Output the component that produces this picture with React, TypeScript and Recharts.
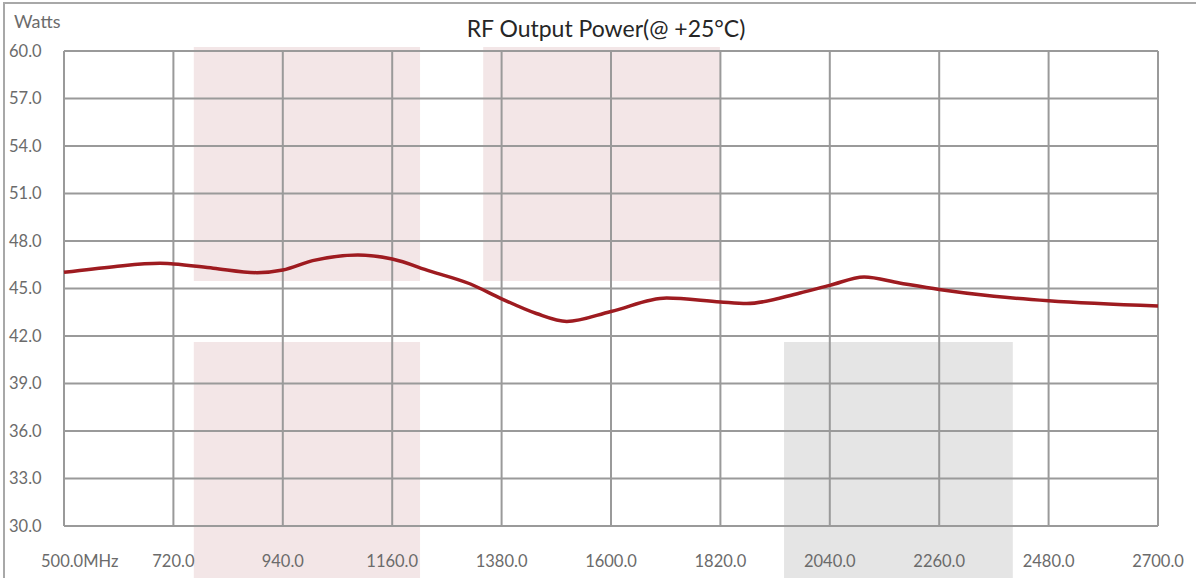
import React from "react";
import {
  LineChart,
  Line,
  XAxis,
  YAxis,
  CartesianGrid,
  ReferenceArea,
} from "recharts";

// frequency (MHz) and output power (W)
const freqs = [
  500, 600, 693, 720, 800, 888, 940, 1000, 1091, 1160, 1236, 1316, 1380, 1450,
  1511, 1600, 1712, 1820, 1873, 1980, 2040, 2109, 2180, 2260, 2370, 2480, 2700,
];
const watts = [
  46.02, 46.38, 46.59, 46.55, 46.28, 46.0, 46.17, 46.76, 47.12, 46.86, 46.1,
  45.3, 44.35, 43.42, 42.92, 43.55, 44.4, 44.15, 44.05, 44.72, 45.2, 45.73,
  45.35, 44.94, 44.51, 44.22, 43.89,
];

const xTicks = [500, 720, 940, 1160, 1380, 1600, 1820, 2040, 2260, 2480, 2700];
const yTicks = [30, 33, 36, 39, 42, 45, 48, 51, 54, 57, 60];

// background blocks behind the plot: [x1, x2, y1, y2, colour]
const blocks: Array<[number, number, number, number, string]> = [
  [761, 1216, 45.47, 60.25, "#f3e6e7"],
  [761, 1216, 26, 41.62, "#f3e6e7"],
  [1343, 1819, 45.47, 60.25, "#f3e6e7"],
  [1948, 2408, 26, 41.62, "#e5e5e5"],
];

const data = freqs.map((f, i) => ({ f, w: watts[i] }));

const FONT = "Lato, 'Open Sans', sans-serif";

const XTick = (props: any) => {
  const { x, y, payload, index } = props;
  const label = payload.value.toFixed(1);
  if (index === 0) {
    return (
      <text x={x - 23} y={y + 33} textAnchor="start" fill="#6b6b6b" fontSize={16.5} fontFamily={FONT}>
        {label}MHz
      </text>
    );
  }
  return (
    <text x={x} y={y + 33} textAnchor="middle" fill="#6b6b6b" fontSize={16.5} fontFamily={FONT}>
      {label}
    </text>
  );
};

const YTick = (props: any) => {
  const { y, payload } = props;
  return (
    <text x={9} y={y} dy="0.35em" textAnchor="start" fill="#6b6b6b" fontSize={16.5} fontFamily={FONT}>
      {payload.value.toFixed(1)}
    </text>
  );
};

export default function App() {
  return (
    <div
      style={{
        position: "absolute",
        left: 0,
        top: 0,
        width: 1196,
        height: 578,
        background: "#fff",
        overflow: "hidden",
        fontFamily: FONT,
      }}
    >
      <div
        style={{
          position: "absolute",
          left: 3,
          top: 2,
          width: 1193,
          height: 580,
          borderTop: "2px solid #a8a8a8",
          borderLeft: "2px solid #a8a8a8",
        }}
      />
      <div
        style={{
          position: "absolute",
          left: 14,
          top: 10,
          fontSize: 18,
          color: "#6b6b6b",
        }}
      >
        Watts
      </div>
      <div
        style={{
          position: "absolute",
          left: 0,
          width: 1212,
          top: 14,
          textAlign: "center",
          fontSize: 23,
          color: "#262626",
        }}
      >
        RF Output Power(@ +25°C)
      </div>
      <div style={{ position: "absolute", left: 0, top: 0 }}>
        <LineChart
          width={1196}
          height={578}
          data={data}
          margin={{ top: 51, right: 38, bottom: 12, left: 0 }}
        >
          {blocks.map(([x1, x2, y1, y2, c], i) => (
            <ReferenceArea
              key={i}
              x1={x1}
              x2={x2}
              y1={y1}
              y2={y2}
              fill={c}
              fillOpacity={1}
              stroke="none"
              ifOverflow="visible"
              zIndex={-150}
            />
          ))}
          <CartesianGrid stroke="#9a9a9a" strokeWidth={2} />
          <XAxis
            dataKey="f"
            type="number"
            domain={[500, 2700]}
            ticks={xTicks}
            interval={0}
            axisLine={false}
            tickLine={false}
            height={40}
            tick={<XTick />}
          />
          <YAxis
            type="number"
            domain={[30, 60]}
            ticks={yTicks}
            interval={0}
            axisLine={false}
            tickLine={false}
            width={64}
            tick={<YTick />}
          />
          <Line
            type="monotone"
            dataKey="w"
            stroke="#9e1b20"
            strokeWidth={3.5}
            dot={false}
            activeDot={false}
            isAnimationActive={false}
          />
        </LineChart>
      </div>
    </div>
  );
}
